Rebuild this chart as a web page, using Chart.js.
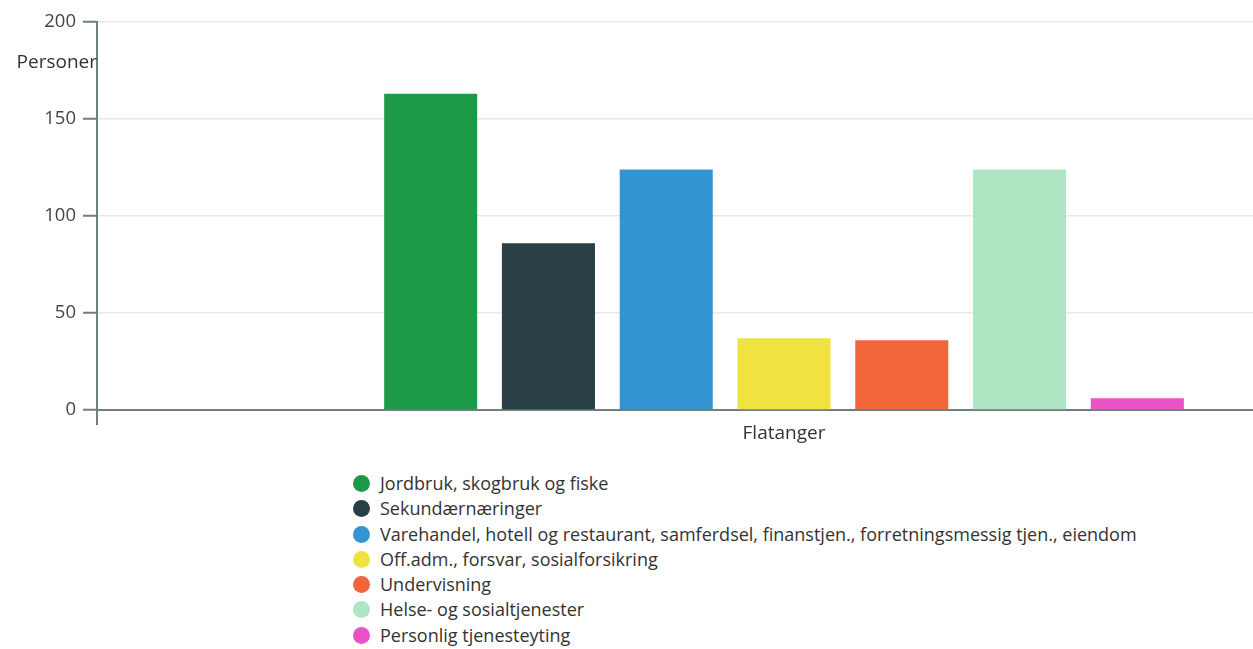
<!DOCTYPE html>
<html>
<head>
<meta charset="utf-8">
<script src="https://cdn.jsdelivr.net/npm/chart.js@4/dist/chart.umd.min.js"></script>
<style>
  body { margin: 0; background: #fff; overflow: hidden; font-family: 'Open Sans', sans-serif; }
  #wrap { position: relative; width: 1480px; height: 450px; }
  #industry { display: block; width: 1480px; height: 450px; }
  #legend { position: absolute; left: 353px; top: 471px; margin: 0; padding: 0; list-style: none; }
  #legend li { height: 25.3px; line-height: 25.3px; font-size: 18px; color: #333; white-space: nowrap; }
  #legend span { display: inline-block; width: 17px; height: 17px; border-radius: 50%; vertical-align: -2px; margin-right: 10px; }
</style>
</head>
<body>
<div id="wrap"><canvas id="industry" width="1480" height="450"></canvas></div>
<ul id="legend"></ul>
<script>
var categories = ['Flatanger'];
var seriesNames = [
  'Jordbruk, skogbruk og fiske',
  'Sekundærnæringer',
  'Varehandel, hotell og restaurant, samferdsel, finanstjen., forretningsmessig tjen., eiendom',
  'Off.adm., forsvar, sosialforsikring',
  'Undervisning',
  'Helse- og sosialtjenester',
  'Personlig tjenesteyting'
];
var seriesValues = [163, 86, 124, 37, 36, 124, 6];
var seriesColors = ['#1d9a48', '#273f45', '#3394d2', '#f0e340', '#f06539', '#aee6c4', '#ea52c6'];
var yMax = 200;
var yStep = 50;
var yTitle = 'Personer';

var datasets = seriesNames.map(function(name, i) {
  return {
    label: name,
    data: [seriesValues[i]],
    backgroundColor: seriesColors[i],
    borderWidth: 0,
    barPercentage: 0.79,
    categoryPercentage: 0.6
  };
});

// "Personer" sits flat next to the axis, not rotated
var yTitlePlugin = {
  id: 'yTitle',
  afterDraw: function(chart) {
    var ctx = chart.ctx;
    var y = chart.scales.y;
    ctx.save();
    ctx.font = '19px "Open Sans"';
    ctx.fillStyle = '#333';
    ctx.textAlign = 'right';
    ctx.textBaseline = 'middle';
    ctx.fillText(yTitle, y.right, y.getPixelForValue(yMax) + 41);
    ctx.restore();
  }
};

var ctx = document.getElementById('industry');
var chart = new Chart(ctx, {
  type: 'bar',
  data: { labels: categories, datasets: datasets },
  options: {
    responsive: false,
    maintainAspectRatio: false,
    animation: false,
    layout: { padding: { top: 22, right: 9, left: 0, bottom: 0 } },
    plugins: {
      legend: { display: false },
      tooltip: { enabled: false }
    },
    scales: {
      x: {
        afterFit: function(scale) { scale.height = 40; },
        grid: { drawOnChartArea: false, offset: true, tickLength: 15, color: '#6e7f7f', lineWidth: 2 },
        border: { color: '#6e7f7f', width: 2 },
        ticks: { padding: -3, color: '#333', font: { family: 'Open Sans', size: 19 } }
      },
      y: {
        min: 0,
        max: yMax,
        afterFit: function(scale) { scale.width = 97; },
        grid: { color: '#e8e8e8', lineWidth: 1.5, tickColor: '#6e7f7f', tickLength: 14, tickWidth: 2 },
        border: { color: '#6e7f7f', width: 2 },
        ticks: { stepSize: yStep, padding: 7, color: '#444', font: { family: 'Open Sans', size: 18.5 } }
      }
    }
  },
  plugins: [yTitlePlugin]
});

// html legend, one row per series
var legend = document.getElementById('legend');
chart.data.datasets.forEach(function(ds) {
  var li = document.createElement('li');
  var dot = document.createElement('span');
  dot.style.background = ds.backgroundColor;
  li.appendChild(dot);
  li.appendChild(document.createTextNode(ds.label));
  legend.appendChild(li);
});
</script>
</body>
</html>
